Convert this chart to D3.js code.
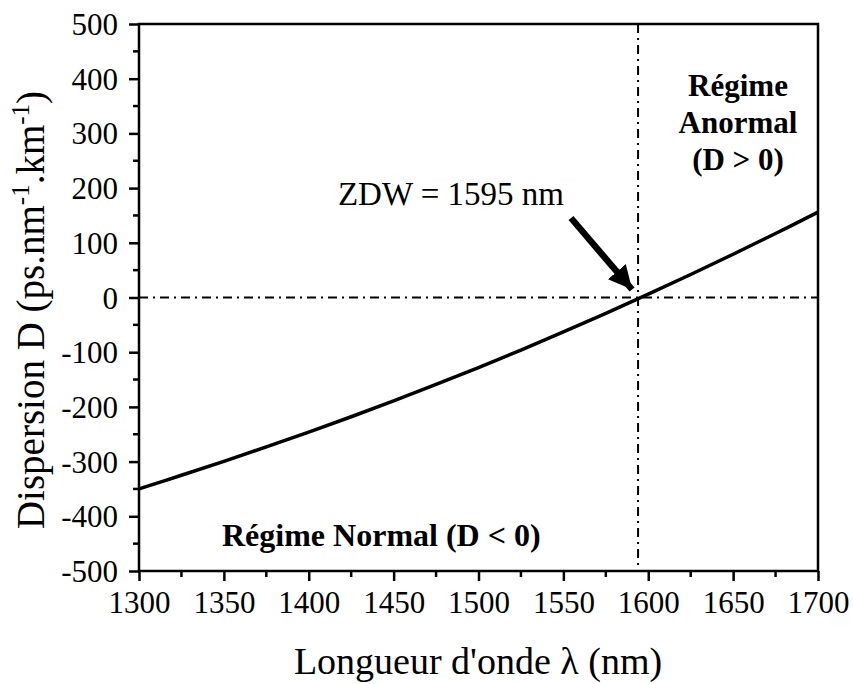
<!DOCTYPE html>
<html>
<head>
<meta charset="utf-8">
<script src="https://cdn.jsdelivr.net/npm/d3@7"></script>
<style>
  body { margin: 0; background: #fff; }
  svg text { font-family: "Liberation Serif", "Times New Roman", serif; fill: #000; }
</style>
</head>
<body>
<svg id="chart" width="853" height="684"></svg>
<script>
// wavelength (nm) and dispersion (ps/nm/km)
var lambda = [1300, 1325, 1350, 1375, 1400, 1425, 1450, 1475, 1500, 1525, 1550, 1575, 1600, 1625, 1650, 1675, 1700];
var dispersion = [-350, -325, -299.5, -273, -246, -218, -189, -159, -128, -96, -63, -29, 6, 42, 79, 117, 156];
var xTicks = [1300, 1350, 1400, 1450, 1500, 1550, 1600, 1650, 1700];
var yTicks = [-500, -400, -300, -200, -100, 0, 100, 200, 300, 400, 500];
var zdw = 1594;

var svg = d3.select("#chart");
var pL = 139, pR = 818, pT = 24, pB = 571;

var x = d3.scaleLinear().domain([1300, 1700]).range([pL, pR]);
var y = d3.scaleLinear().domain([-500, 500]).range([pB, pT]);

// minor ticks
var xMinor = d3.range(1325, 1700, 50);
var yMinor = d3.range(-450, 500, 100);

svg.selectAll(".xminor").data(xMinor).enter().append("line")
  .attr("x1", d => x(d)).attr("x2", d => x(d))
  .attr("y1", pB).attr("y2", pB + 6)
  .attr("stroke", "#000").attr("stroke-width", 2.5);
svg.selectAll(".yminor").data(yMinor).enter().append("line")
  .attr("x1", pL - 6).attr("x2", pL)
  .attr("y1", d => y(d)).attr("y2", d => y(d))
  .attr("stroke", "#000").attr("stroke-width", 2.5);

// major axes (plain hyphen for negatives, like the original)
var fmt = d => String(d);
var xAxis = svg.append("g").attr("transform", "translate(0," + pB + ")")
  .call(d3.axisBottom(x).tickValues(xTicks).tickSize(10).tickSizeOuter(0).tickFormat(fmt));
var yAxis = svg.append("g").attr("transform", "translate(" + pL + ",0)")
  .call(d3.axisLeft(y).tickValues(yTicks).tickSize(10).tickSizeOuter(0).tickFormat(fmt));

[xAxis, yAxis].forEach(function(g) {
  g.attr("font-family", null).attr("font-size", null);
  g.select(".domain").remove();
  g.selectAll("line").attr("stroke", "#000").attr("stroke-width", 2.5);
  g.selectAll("text").attr("fill", "#000")
    .style("font-family", "'Times New Roman', 'Liberation Serif', serif")
    .style("font-size", "31px");
});
xAxis.selectAll("text").attr("y", 42).attr("dy", null);
yAxis.selectAll("text").attr("x", -21).attr("dy", "0.34em");

// frame
svg.append("rect")
  .attr("x", pL).attr("y", pT)
  .attr("width", pR - pL).attr("height", pB - pT)
  .attr("fill", "none").attr("stroke", "#000").attr("stroke-width", 2.5);

// dash-dot reference lines
svg.append("line")
  .attr("x1", pL).attr("x2", pR).attr("y1", y(0)).attr("y2", y(0))
  .attr("stroke", "#000").attr("stroke-width", 2).attr("stroke-dasharray", "9,5,2,5");
svg.append("line")
  .attr("x1", x(zdw)).attr("x2", x(zdw)).attr("y1", pT).attr("y2", pB)
  .attr("stroke", "#000").attr("stroke-width", 2).attr("stroke-dasharray", "9,5,2,5");

// dispersion curve
var pts = lambda.map((l, i) => [l, dispersion[i]]);
svg.append("path")
  .datum(pts)
  .attr("fill", "none").attr("stroke", "#000").attr("stroke-width", 3.5)
  .attr("d", d3.line().x(d => x(d[0])).y(d => y(d[1])).curve(d3.curveCatmullRom));

// arrow to ZDW
svg.append("defs").append("marker")
  .attr("id", "head").attr("viewBox", "0 0 10 10")
  .attr("refX", 10).attr("refY", 5)
  .attr("markerWidth", 3.6).attr("markerHeight", 3.6)
  .attr("markerUnits", "strokeWidth").attr("orient", "auto")
  .append("path").attr("d", "M0,0 L10,5 L0,10 z").attr("fill", "#000");
svg.append("line")
  .attr("x1", 571).attr("y1", 218)
  .attr("x2", x(zdw) - 6).attr("y2", y(0) - 8)
  .attr("stroke", "#000").attr("stroke-width", 6.5)
  .attr("marker-end", "url(#head)");

svg.append("text").attr("x", 564).attr("y", 205).attr("text-anchor", "end")
  .style("font-size", "33px").text("ZDW = 1595 nm");

// regime labels
var anormal = ["Régime", "Anormal", "(D > 0)"];
svg.selectAll(".anorm").data(anormal).enter().append("text")
  .attr("x", 738).attr("y", (d, i) => 96 + i * 37)
  .attr("text-anchor", "middle")
  .style("font-size", "31px").style("font-weight", "bold").text(d => d);

svg.append("text").attr("x", 222).attr("y", 546).attr("text-anchor", "start")
  .style("font-size", "32px").style("font-weight", "bold").text("Régime Normal (D < 0)");

// axis titles
svg.append("text").attr("x", 478).attr("y", 674).attr("text-anchor", "middle")
  .style("font-size", "38px").text("Longueur d'onde λ (nm)");

var yt = svg.append("text")
  .attr("transform", "translate(44," + 310 + ") rotate(-90)")
  .attr("text-anchor", "middle")
  .style("font-size", "39px");
yt.append("tspan").text("Dispersion D (ps.nm");
yt.append("tspan").attr("dy", -15).style("font-size", "25px").text("-1");
yt.append("tspan").attr("dy", 15).text(".km");
yt.append("tspan").attr("dy", -15).style("font-size", "25px").text("-1");
yt.append("tspan").attr("dy", 15).text(")");
</script>
</body>
</html>
